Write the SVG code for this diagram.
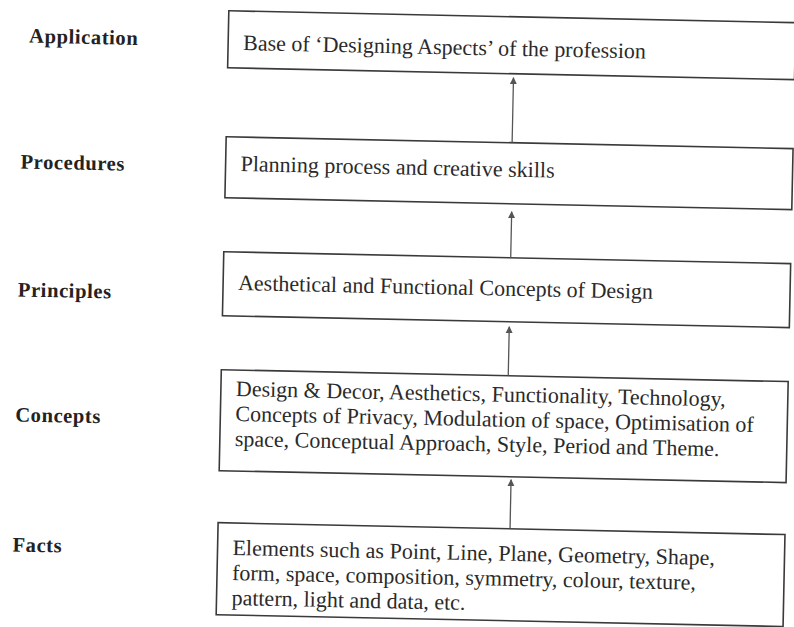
<svg xmlns="http://www.w3.org/2000/svg" width="794" height="627" viewBox="0 0 794 627">
<style>
.box{fill:#fff;stroke:#3a3a3a;stroke-width:1.6}
.t{font-family:"Liberation Serif","Times New Roman",serif;font-size:22px;fill:#2a2a2a}
.lbl{font-family:"Liberation Serif","Times New Roman",serif;font-size:20.5px;font-weight:bold;fill:#222;letter-spacing:0.6px}
.conn{stroke:#555;stroke-width:1.3;fill:none}
</style>
<defs>
<marker id="ah" viewBox="0 0 10 10" refX="9" refY="5" markerWidth="7" markerHeight="8" markerUnits="userSpaceOnUse" orient="auto">
<path d="M0,0 L10,5 L0,10 Z" fill="#555"/>
</marker>
</defs>
<rect width="794" height="627" fill="#fff"/>
<g transform="rotate(1.2)">
<g id="labels">
<text class="lbl" x="30" y="42">Application</text>
<text class="lbl" x="24" y="168">Procedures</text>
<text class="lbl" x="24" y="296">Principles</text>
<text class="lbl" x="24" y="421">Concepts</text>
<text class="lbl" x="24" y="551">Facts</text>
</g>
<g id="application">
<rect class="box" x="229" y="6" width="567" height="57"/>
<text class="t" x="244" y="45">Base of ‘Designing Aspects’ of the profession</text>
</g>
<g id="procedures">
<rect class="box" x="229" y="132" width="567" height="61"/>
<text class="t" x="244" y="166">Planning process and creative skills</text>
</g>
<g id="principles">
<rect class="box" x="229" y="247" width="567" height="64"/>
<text class="t" x="244" y="285">Aesthetical and Functional Concepts of Design</text>
</g>
<g id="concepts">
<rect class="box" x="229" y="365" width="567" height="101"/>
<text class="t" x="244" y="391">Design &amp; Decor, Aesthetics, Functionality, Technology,</text>
<text class="t" x="244" y="416">Concepts of Privacy, Modulation of space, Optimisation of</text>
<text class="t" x="244" y="441">space, Conceptual Approach, Style, Period and Theme.</text>
</g>
<g id="facts">
<rect class="box" x="229" y="518" width="567" height="92"/>
<text class="t" x="244" y="550">Elements such as Point, Line, Plane, Geometry, Shape,</text>
<text class="t" x="244" y="575">form, space, composition, symmetry, colour, texture,</text>
<text class="t" x="244" y="600">pattern, light and data, etc.</text>
</g>
<g id="connectors">
<line class="conn" x1="515" y1="132" x2="515" y2="67" marker-end="url(#ah)"/>
<line class="conn" x1="516" y1="247" x2="516" y2="201" marker-end="url(#ah)"/>
<line class="conn" x1="516" y1="365" x2="516" y2="316" marker-end="url(#ah)"/>
<line class="conn" x1="521" y1="518" x2="521" y2="469" marker-end="url(#ah)"/>
</g>
</g>
</svg>
